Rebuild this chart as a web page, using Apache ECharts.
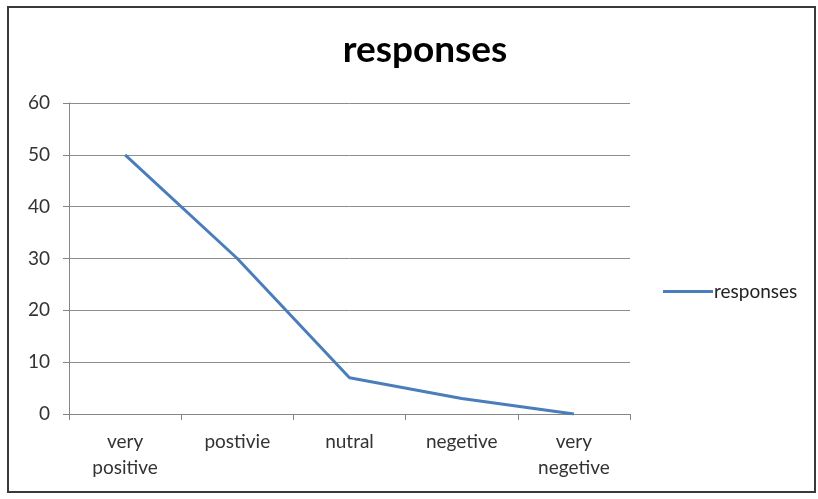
<!DOCTYPE html>
<html>
<head>
<meta charset="utf-8">
<script src="https://cdn.jsdelivr.net/npm/echarts@6/dist/echarts.min.js"></script>
<style>
html,body{margin:0;padding:0;background:#fff;}
#c{width:818px;height:499px;}
</style>
</head>
<body>
<div id="c"></div>
<script>
var categories = ['very\npositive', 'postivie', 'nutral', 'negetive', 'very\nnegetive'];
var responses = [50, 30, 7, 3, 0];
var seriesName = 'responses';
var titleText = 'responses';

var chart = echarts.init(document.getElementById('c'));
var font = 'Lato, "Open Sans", sans-serif';
chart.setOption({
  animation: false,
  backgroundColor: '#fff',
  graphic: [{
    type: 'rect', shape: {x: 8, y: 7, width: 807, height: 485},
    style: {fill: 'none', stroke: '#3a3a3a', lineWidth: 2}
  }],
  title: {
    text: titleText, left: 420, top: 27, textAlign: 'center',
    textStyle: {fontFamily: font, fontSize: 37, fontWeight: 'bold', color: '#000'}
  },
  legend: {
    data: [seriesName], left: 658, top: 277, itemWidth: 50, itemHeight: 3, itemGap: 0,
    icon: 'rect',
    textStyle: {fontFamily: font, fontSize: 19, color: '#222', padding: [0, 0, 0, -4]}
  },
  grid: {left: 69, right: 188, top: 103, bottom: 85},
  xAxis: {
    type: 'category', data: categories, boundaryGap: true,
    axisLine: {lineStyle: {color: '#868686', width: 1}},
    axisTick: {show: true, alignWithLabel: false, length: 6, lineStyle: {color: '#868686'}},
    axisLabel: {fontFamily: font, fontSize: 19, color: '#333', margin: 15, lineHeight: 26, interval: 0}
  },
  yAxis: {
    type: 'value', min: 0, max: 60, interval: 10,
    axisLine: {show: true, lineStyle: {color: '#868686', width: 1}},
    axisTick: {show: true, length: 6, lineStyle: {color: '#868686'}},
    axisLabel: {fontFamily: font, fontSize: 19, color: '#333', margin: 19},
    splitLine: {lineStyle: {color: '#8c8c8c', width: 1}}
  },
  series: [{
    name: seriesName, type: 'line', data: responses,
    symbol: 'none', lineStyle: {color: '#4a7ebb', width: 3},
    itemStyle: {color: '#4a7ebb'}
  }]
});
</script>
</body>
</html>
